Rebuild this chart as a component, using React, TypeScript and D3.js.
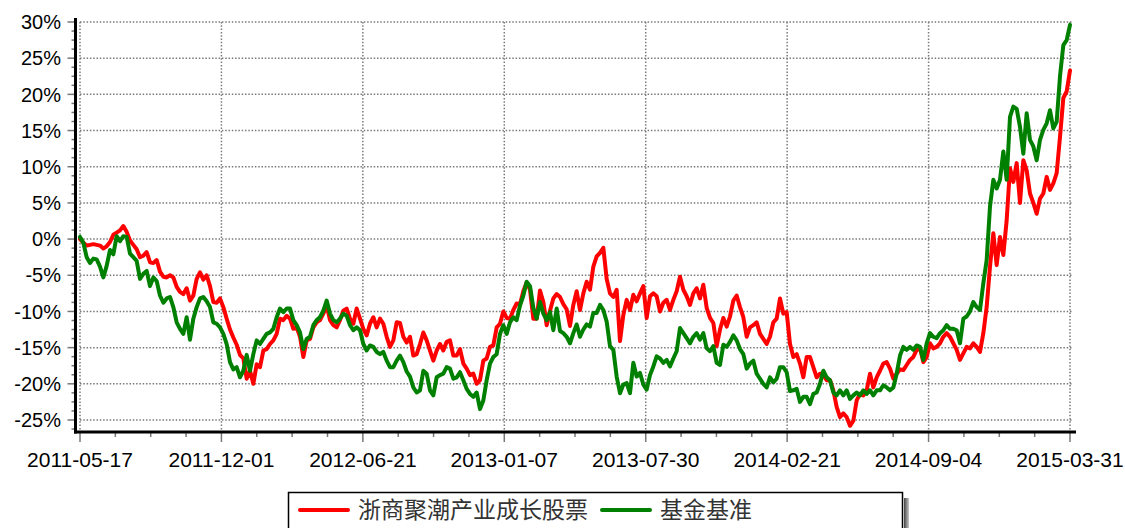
import React from "react";
import * as d3 from "d3";

const width = 1125;
const height = 528;
const margin = { top: 22, right: 55, bottom: 96, left: 80 };

// x axis labels (trading-day axis, evenly spaced)
const tickLabels = [
  "2011-05-17",
  "2011-12-01",
  "2012-06-21",
  "2013-01-07",
  "2013-07-30",
  "2014-02-21",
  "2014-09-04",
  "2015-03-31",
];

const seriesNames = ["浙商聚潮产业成长股票", "基金基准"];
const seriesColors = ["#ff0000", "#008000"];

// cumulative return, %
const fundReturns = [
  0.0, -0.5, -0.9, -0.8, -0.7, -0.8, -0.9, -1.3, -1.0, -0.4,
  0.6, 0.9, 1.2, 1.8, 1.0, -0.2, -0.8, -1.4, -2.5, -2.3,
  -1.8, -3.2, -3.3, -2.9, -4.5, -5.2, -5.3, -5.0, -5.3, -6.6,
  -7.3, -7.6, -6.8, -8.5, -7.8, -5.5, -4.6, -5.6, -5.0, -6.5,
  -8.7, -8.8, -8.2, -9.4, -11.0, -12.5, -13.6, -14.6, -16.0, -16.5,
  -19.3, -18.2, -20.0, -17.3, -17.7, -15.4, -15.2, -14.5, -14.0, -13.1,
  -11.0, -11.2, -10.6, -11.0, -12.4, -12.2, -13.5, -16.3, -14.0, -13.8,
  -12.2, -11.5, -11.2, -10.3, -9.2, -11.2, -11.9, -12.2, -11.2, -9.9,
  -9.6, -11.0, -11.7, -9.6, -11.0, -12.4, -13.3, -11.7, -10.8, -12.2,
  -11.0, -11.7, -13.5, -14.9, -14.0, -11.5, -11.6, -13.5, -14.3, -13.5,
  -16.1, -15.9, -14.5, -12.9, -14.0, -15.4, -16.8, -15.4, -14.5, -15.4,
  -14.2, -14.0, -16.1, -16.1, -15.2, -17.2, -17.9, -18.8, -18.6, -20.0,
  -19.5, -16.8, -16.5, -14.9, -14.7, -12.2, -11.7, -10.0, -10.9, -11.0,
  -9.8, -8.9, -9.0, -7.2, -6.0, -7.0, -11.0, -11.0, -7.1, -8.7,
  -11.9, -9.9, -8.2, -7.6, -8.0, -9.0, -9.7, -12.0, -9.1, -7.2,
  -9.8, -7.5, -5.9, -7.0, -3.8, -2.4, -1.9, -1.2, -5.5, -7.5,
  -8.0, -7.0, -14.1, -10.5, -8.4, -9.8, -7.7, -8.6, -7.5, -6.5,
  -10.9, -7.9, -7.5, -7.9, -10.0, -8.8, -8.4, -9.8, -8.4, -7.2,
  -5.2, -7.0, -7.9, -9.1, -7.5, -6.8, -8.2, -6.3, -9.5, -10.9,
  -11.6, -14.8, -12.5, -10.9, -12.1, -10.7, -8.5, -7.8, -9.4, -10.8,
  -13.5, -12.2, -11.9, -11.5, -13.1, -13.8, -14.5, -13.5, -11.5, -11.0,
  -8.2, -10.3, -10.1, -14.5, -16.3, -15.9, -17.2, -19.1, -16.3, -16.3,
  -17.7, -19.1, -18.6, -18.8, -19.5, -19.5, -20.9, -23.2, -24.6, -24.1,
  -24.6, -25.8, -25.1, -22.3, -21.4, -21.6, -20.9, -18.6, -20.5, -19.1,
  -18.2, -17.2, -17.0, -17.9, -19.3, -18.6, -18.0, -18.1, -17.4, -16.7,
  -16.3, -15.3, -15.1, -17.0, -16.3, -14.4, -15.1, -14.9, -14.4, -13.5,
  -13.0, -13.5, -14.4, -15.3, -16.7, -15.8, -14.9, -15.1, -14.4, -14.9,
  -15.6, -13.0, -9.4, -3.8, 0.8, -3.6, 0.3, -2.2, 2.6, 9.8,
  7.9, 10.5, 5.0, 10.9, 9.5, 6.3, 5.0, 3.5, 5.6, 6.3,
  8.6, 6.8, 7.7, 9.1, 14.1, 19.5, 20.4, 23.3,
];

const benchmarkReturns = [
  0.3, -0.5, -2.5, -3.3, -2.7, -2.8, -3.8, -5.3, -3.7, -1.5,
  -2.1, 0.4, -0.3, 0.4, 0.3, -2.0, -2.5, -3.0, -5.5, -4.8,
  -4.4, -6.5, -5.3, -5.8, -7.8, -8.8, -8.2, -8.0, -9.4, -11.5,
  -12.4, -13.1, -10.8, -13.9, -11.0, -9.4, -8.2, -8.0, -8.6, -9.4,
  -11.5, -11.7, -12.2, -13.1, -14.5, -17.0, -18.0, -17.7, -19.1, -18.2,
  -16.0, -18.2, -15.9, -14.0, -14.5, -13.8, -13.1, -12.9, -12.4, -10.8,
  -9.6, -10.1, -9.6, -9.6, -11.2, -11.9, -12.9, -15.2, -13.8, -13.5,
  -11.9, -11.2, -10.8, -9.9, -8.5, -10.3, -11.2, -11.5, -11.0, -10.3,
  -10.6, -11.9, -12.6, -12.2, -12.6, -14.5, -15.4, -14.7, -14.9, -15.6,
  -15.9, -15.6, -16.8, -17.7, -17.7, -16.8, -16.1, -17.0, -18.3, -19.0,
  -20.5, -21.2, -20.9, -18.2, -18.6, -20.9, -21.6, -19.1, -18.8, -18.6,
  -17.7, -17.9, -19.3, -19.1, -18.4, -19.5, -20.7, -21.4, -21.8, -21.2,
  -23.5, -22.3, -19.5, -17.2, -16.3, -15.9, -13.1, -11.9, -13.1, -11.5,
  -10.8, -11.2, -9.2, -7.8, -5.9, -6.5, -9.5, -11.0, -8.7, -10.3,
  -11.2, -10.1, -12.6, -9.6, -12.7, -13.0, -13.5, -14.4, -13.0, -11.8,
  -13.5, -12.5, -11.8, -12.1, -10.2, -10.2, -9.1, -9.8, -11.4, -14.8,
  -15.3, -19.0, -21.3, -20.1, -19.9, -21.3, -17.1, -19.0, -18.5, -20.1,
  -20.8, -18.8, -17.6, -16.2, -16.5, -17.1, -16.7, -17.6, -16.5, -15.5,
  -12.3, -13.0, -13.7, -14.4, -13.5, -13.0, -13.9, -13.0, -15.1, -15.5,
  -14.8, -17.1, -17.4, -14.6, -14.9, -14.2, -13.3, -14.0, -15.2, -15.9,
  -17.9, -17.2, -16.8, -18.6, -19.3, -20.0, -20.5, -19.1, -19.8, -19.3,
  -17.7, -17.7, -18.4, -21.0, -20.9, -20.7, -22.5, -21.8, -21.8, -22.8,
  -21.4, -21.2, -20.0, -18.2, -19.1, -19.5, -21.2, -21.6, -20.9, -21.6,
  -20.9, -22.1, -21.6, -21.2, -21.6, -20.9, -21.4, -20.9, -21.6, -20.9,
  -20.9, -20.2, -20.5, -20.9, -20.5, -18.6, -16.1, -14.9, -15.3, -14.9,
  -15.3, -14.7, -14.9, -16.7, -14.4, -13.0, -13.5, -13.7, -13.0, -12.6,
  -11.9, -12.4, -12.4, -12.6, -14.4, -11.0, -10.7, -10.0, -8.7, -9.4,
  -9.8, -6.1, -2.9, 4.5, 8.2, 7.0, 8.2, 12.1, 8.2, 16.9,
  18.3, 18.0, 15.5, 11.8, 17.4, 13.7, 12.8, 10.9, 13.7, 15.1,
  16.0, 17.8, 15.3, 16.2, 22.5, 26.8, 27.5, 29.6,
];

const yMin = -26.66;
const yMax = 30;

const tickFont = "'Liberation Sans', Arial, Helvetica, sans-serif";
const cjkFont = "'Noto Sans CJK SC', 'Noto Sans', sans-serif";

export default function App() {
  const n = fundReturns.length;
  const x0 = margin.left;
  const x1 = width - margin.right;
  const yTop = margin.top;
  const yBottom = height - margin.bottom;

  const xScale = d3.scaleLinear().domain([0, n - 1]).range([x0, x1]);
  const yScale = d3.scaleLinear().domain([yMin, yMax]).range([yBottom, yTop]);

  const lineGen = d3
    .line<number>()
    .x((d, i) => xScale(i))
    .y((d) => yScale(d))
    .curve(d3.curveLinear);

  const segs = tickLabels.length - 1;
  const majorX = tickLabels.map((_, i) => (i * (n - 1)) / segs);
  const minorX = d3
    .range(segs * 4 + 1)
    .filter((j) => j % 4 !== 0)
    .map((j) => (j * (n - 1)) / (segs * 4));

  const yTicks = d3.range(-25, yMax + 0.01, 5);
  const yMinor = d3
    .range(-26.25, yMax, 1.25)
    .filter((v) => Math.abs(v / 5 - Math.round(v / 5)) > 1e-6);

  const axisX = 75.5;
  const gridStyle = {
    stroke: "#7a7a7a",
    strokeWidth: 1.5,
    strokeDasharray: "1.5 1.8",
    fill: "none",
  };

  return (
    <svg
      width={width}
      height={height}
      style={{ position: "absolute", left: 0, top: 0, background: "#fff" }}
    >
      <defs>
        <linearGradient id="legendShadow" x1="0" x2="1" y1="0" y2="0">
          <stop offset="0%" stopColor="#444" />
          <stop offset="100%" stopColor="#c8c8c8" />
        </linearGradient>
      </defs>

      {/* grid */}
      <g>
        {yTicks.map((v) => (
          <line key={"gy" + v} x1={x0} x2={x1 + 2} y1={yScale(v)} y2={yScale(v)} {...gridStyle} />
        ))}
        {majorX.map((v, i) => (
          <line key={"gx" + i} x1={xScale(v)} x2={xScale(v)} y1={yTop} y2={yBottom} {...gridStyle} />
        ))}
      </g>

      {/* series */}
      {[fundReturns, benchmarkReturns].map((data, i) => (
        <path
          key={"s" + i}
          d={lineGen(data) || ""}
          fill="none"
          stroke={seriesColors[i]}
          strokeWidth={4}
          strokeLinejoin="round"
          strokeLinecap="round"
        />
      ))}

      {/* y axis */}
      <g>
        {yMinor.map((v) => (
          <line key={"ym" + v} x1={axisX - 4} x2={axisX} y1={yScale(v)} y2={yScale(v)} stroke="#777" strokeWidth={1.5} />
        ))}
        {yTicks.map((v) => (
          <line key={"yt" + v} x1={axisX - 8} x2={axisX} y1={yScale(v)} y2={yScale(v)} stroke="#777" strokeWidth={1.5} />
        ))}
        <line x1={axisX} x2={axisX} y1={yTop - 4} y2={yBottom + 1.5} stroke="#000" strokeWidth={3} />
        {yTicks.map((v) => (
          <text
            key={"yl" + v}
            x={61}
            y={yScale(v)}
            dy="0.36em"
            textAnchor="end"
            fontFamily={tickFont}
            fontSize={20}
            fill="#000"
          >
            {v + "%"}
          </text>
        ))}
      </g>

      {/* x axis */}
      <g>
        {minorX.map((v, i) => (
          <line key={"xm" + i} x1={xScale(v)} x2={xScale(v)} y1={yBottom} y2={yBottom + 5} stroke="#777" strokeWidth={1.5} />
        ))}
        {majorX.map((v, i) => (
          <line key={"xt" + i} x1={xScale(v)} x2={xScale(v)} y1={yBottom} y2={yBottom + 10} stroke="#777" strokeWidth={1.5} />
        ))}
        <line x1={axisX - 1.5} x2={x1 + 6} y1={yBottom} y2={yBottom} stroke="#000" strokeWidth={3} />
        {majorX.map((v, i) => (
          <text
            key={"xl" + i}
            x={xScale(v)}
            y={467}
            textAnchor="middle"
            fontFamily={tickFont}
            fontSize={21}
            fill="#000"
          >
            {tickLabels[i]}
          </text>
        ))}
      </g>

      {/* legend */}
      <g>
        <rect x={904} y={498} width={5} height={40} fill="url(#legendShadow)" />
        <rect x={288.5} y={492.5} width={614} height={40} fill="#fff" stroke="#000" strokeWidth={1.5} />
        {seriesNames.map((name, i) => {
          const lx = i === 0 ? 300 : 602;
          return (
            <g key={"lg" + i}>
              <line x1={lx} x2={lx + 48} y1={510} y2={510} stroke={seriesColors[i]} strokeWidth={4} strokeLinecap="round" />
              <text
                x={lx + 58}
                y={510}
                dy="0.36em"
                fontFamily={cjkFont}
                fontSize={23}
                fill="#333"
              >
                {name}
              </text>
            </g>
          );
        })}
      </g>
    </svg>
  );
}
